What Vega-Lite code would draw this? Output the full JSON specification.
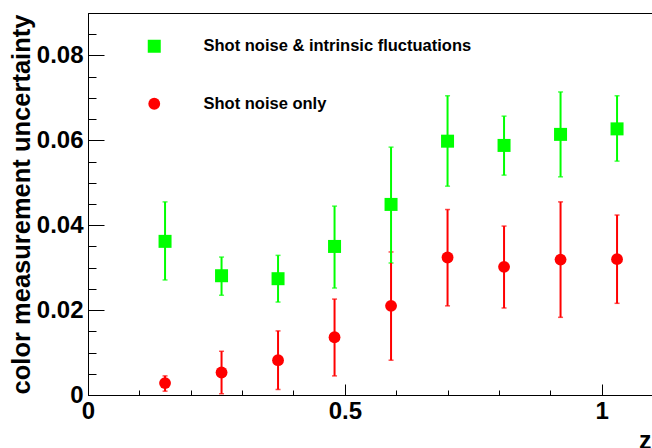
{
  "$schema": "https://vega.github.io/schema/vega-lite/v6.json",
  "width": 565,
  "height": 382,
  "autosize": {"type": "none"},
  "padding": {"left": 88, "top": 13, "right": 0, "bottom": 53},
  "background": "white",
  "config": {
    "view": {"stroke": "black", "strokeWidth": 1},
    "font": "Liberation Sans",
    "legend": {
      "orient": "none",
      "legendX": 58,
      "legendY": 25,
      "title": null,
      "labelFont": "Liberation Sans",
      "labelFontSize": 16.5,
      "labelFontWeight": "bold",
      "labelColor": "black",
      "labelLimit": 0,
      "labelOffset": 41,
      "rowPadding": 40.5,
      "padding": 0,
      "symbolStrokeWidth": 0,
      "symbolOpacity": 1
    }
  },
  "data": {
    "values": [
      {"series": "Shot noise only", "z": 0.15, "uncertainty": 0.0028, "low": 0.0009, "high": 0.0045},
      {"series": "Shot noise only", "z": 0.26, "uncertainty": 0.0053, "low": 0.0003, "high": 0.0103},
      {"series": "Shot noise only", "z": 0.37, "uncertainty": 0.0082, "low": 0.0013, "high": 0.0151},
      {"series": "Shot noise only", "z": 0.48, "uncertainty": 0.0136, "low": 0.0045, "high": 0.0226},
      {"series": "Shot noise only", "z": 0.59, "uncertainty": 0.0210, "low": 0.0082, "high": 0.0337},
      {"series": "Shot noise only", "z": 0.70, "uncertainty": 0.0324, "low": 0.0210, "high": 0.0437},
      {"series": "Shot noise only", "z": 0.81, "uncertainty": 0.0302, "low": 0.0205, "high": 0.0398},
      {"series": "Shot noise only", "z": 0.92, "uncertainty": 0.0319, "low": 0.0183, "high": 0.0455},
      {"series": "Shot noise only", "z": 1.03, "uncertainty": 0.0320, "low": 0.0216, "high": 0.0424},
      {"series": "Shot noise & intrinsic fluctuations", "z": 0.15, "uncertainty": 0.0362, "low": 0.0271, "high": 0.0455},
      {"series": "Shot noise & intrinsic fluctuations", "z": 0.26, "uncertainty": 0.0281, "low": 0.0235, "high": 0.0325},
      {"series": "Shot noise & intrinsic fluctuations", "z": 0.37, "uncertainty": 0.0274, "low": 0.0219, "high": 0.0329},
      {"series": "Shot noise & intrinsic fluctuations", "z": 0.48, "uncertainty": 0.0350, "low": 0.0252, "high": 0.0445},
      {"series": "Shot noise & intrinsic fluctuations", "z": 0.59, "uncertainty": 0.0449, "low": 0.0311, "high": 0.0584},
      {"series": "Shot noise & intrinsic fluctuations", "z": 0.70, "uncertainty": 0.0598, "low": 0.0492, "high": 0.0705},
      {"series": "Shot noise & intrinsic fluctuations", "z": 0.81, "uncertainty": 0.0588, "low": 0.0518, "high": 0.0657},
      {"series": "Shot noise & intrinsic fluctuations", "z": 0.92, "uncertainty": 0.0614, "low": 0.0514, "high": 0.0714},
      {"series": "Shot noise & intrinsic fluctuations", "z": 1.03, "uncertainty": 0.0627, "low": 0.0551, "high": 0.0705}
    ]
  },
  "encoding": {
    "x": {
      "field": "z",
      "type": "quantitative",
      "scale": {"domain": [0, 1.1], "nice": false, "zero": false},
      "axis": {
        "values": [0, 0.1, 0.2, 0.3, 0.4, 0.5, 0.6, 0.7, 0.8, 0.9, 1.0, 1.1],
        "title": "z",
        "titleFont": "Liberation Sans",
        "titleFontSize": 25,
        "titleFontWeight": "bold",
        "titleColor": "black",
        "titleAnchor": "end",
        "titleAlign": "right",
        "titleBaseline": "alphabetic",
        "titleX": 563,
        "titleY": 53,
        "labelExpr": "datum.value == 0 ? '0' : (abs(datum.value - 0.5) < 1e-6 ? '0.5' : (abs(datum.value - 1) < 1e-6 ? '1' : ''))",
        "labelFont": "Liberation Sans",
        "labelFontSize": 24,
        "labelFontWeight": "bold",
        "labelColor": "black",
        "labelOverlap": false,
        "labelFlush": false,
        "labelPadding": 15,
        "tickSize": {"condition": {"test": "abs(datum.value * 2 - round(datum.value * 2)) < 1e-6", "value": -11}, "value": -5},
        "tickColor": "black",
        "domainColor": "black",
        "grid": false
      }
    },
    "color": {
      "field": "series",
      "type": "nominal",
      "scale": {"domain": ["Shot noise & intrinsic fluctuations", "Shot noise only"], "range": ["#00ff00", "#ff0000"]}
    }
  },
  "layer": [
    {
      "mark": {"type": "errorbar", "thickness": 2, "ticks": {"size": 5, "thickness": 1.5}},
      "encoding": {
        "y": {
          "field": "low",
          "type": "quantitative",
          "scale": {"domain": [0, 0.09], "nice": false, "zero": false},
          "axis": {
            "values": [0, 0.005, 0.01, 0.015, 0.02, 0.025, 0.03, 0.035, 0.04, 0.045, 0.05, 0.055, 0.06, 0.065, 0.07, 0.075, 0.08, 0.085, 0.09],
            "title": "color measurement uncertainty",
            "titleFont": "Liberation Sans",
            "titleFontSize": 25.5,
            "titleFontWeight": "bold",
            "titleColor": "black",
            "titleAngle": 270,
            "titleAlign": "center",
            "titleBaseline": "alphabetic",
            "titleX": -58.5,
            "titleY": 191,
            "labelExpr": "abs(datum.value * 50 - round(datum.value * 50)) < 1e-6 ? (datum.value == 0 ? '0' : format(datum.value, '.2f')) : ''",
            "labelFont": "Liberation Sans",
            "labelFontSize": 24,
            "labelFontWeight": "bold",
            "labelColor": "black",
            "labelOverlap": false,
            "labelFlush": false,
            "labelPadding": 21,
            "tickSize": {"condition": {"test": "abs(datum.value * 50 - round(datum.value * 50)) < 1e-6", "value": -16}, "value": -8},
            "tickColor": "black",
            "domainColor": "black",
            "grid": false
          }
        },
        "y2": {"field": "high"}
      }
    },
    {
      "mark": {"type": "point", "filled": true, "opacity": 1, "strokeWidth": 0},
      "encoding": {
        "y": {
          "field": "uncertainty",
          "type": "quantitative",
          "scale": {"domain": [0, 0.09], "nice": false, "zero": false},
          "axis": {
            "values": [0, 0.005, 0.01, 0.015, 0.02, 0.025, 0.03, 0.035, 0.04, 0.045, 0.05, 0.055, 0.06, 0.065, 0.07, 0.075, 0.08, 0.085, 0.09],
            "title": "color measurement uncertainty",
            "titleFont": "Liberation Sans",
            "titleFontSize": 25.5,
            "titleFontWeight": "bold",
            "titleColor": "black",
            "titleAngle": 270,
            "titleAlign": "center",
            "titleBaseline": "alphabetic",
            "titleX": -58.5,
            "titleY": 191,
            "labelExpr": "abs(datum.value * 50 - round(datum.value * 50)) < 1e-6 ? (datum.value == 0 ? '0' : format(datum.value, '.2f')) : ''",
            "labelFont": "Liberation Sans",
            "labelFontSize": 24,
            "labelFontWeight": "bold",
            "labelColor": "black",
            "labelOverlap": false,
            "labelFlush": false,
            "labelPadding": 21,
            "tickSize": {"condition": {"test": "abs(datum.value * 50 - round(datum.value * 50)) < 1e-6", "value": -16}, "value": -8},
            "tickColor": "black",
            "domainColor": "black",
            "grid": false
          }
        },
        "shape": {
          "field": "series",
          "type": "nominal",
          "scale": {"domain": ["Shot noise & intrinsic fluctuations", "Shot noise only"], "range": ["square", "circle"]}
        },
        "size": {
          "field": "series",
          "type": "nominal",
          "scale": {"domain": ["Shot noise & intrinsic fluctuations", "Shot noise only"], "range": [169, 140]}
        }
      }
    }
  ]
}
